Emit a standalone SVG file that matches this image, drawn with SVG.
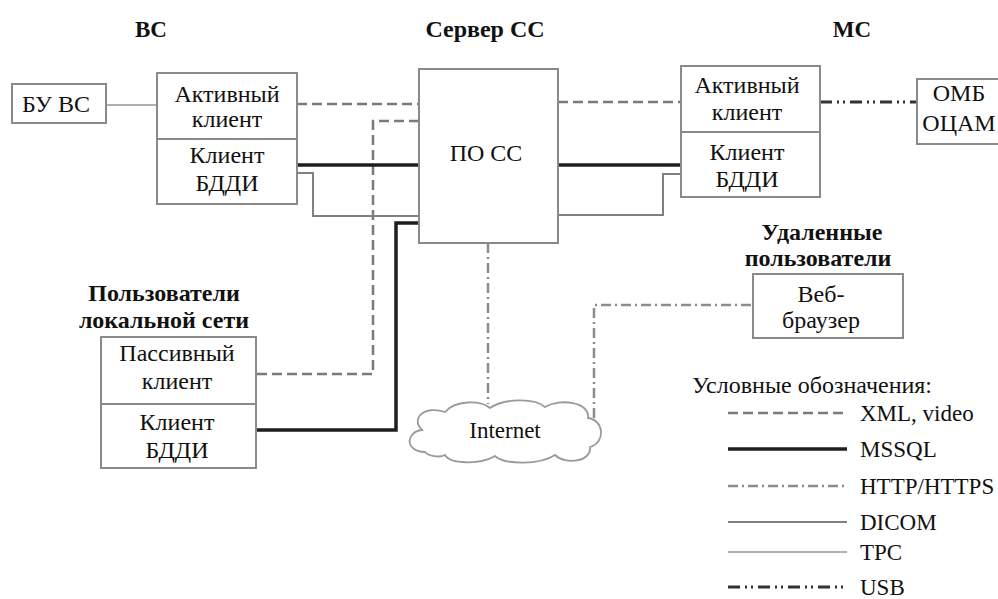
<svg xmlns="http://www.w3.org/2000/svg" width="998" height="599" viewBox="0 0 998 599" font-family="'Liberation Serif', 'Times New Roman', serif">
<style>
text{font-family:'Liberation Serif','Times New Roman',serif;font-size:24px;fill:#111}
.c{text-anchor:middle}
.b{font-weight:bold}
.lg{font-size:23px}
.bx{fill:#fff;stroke:#8a8a8a;stroke-width:2}
.xml{fill:none;stroke:#7a7a7a;stroke-width:2.5;stroke-dasharray:10 5}
.sql{fill:none;stroke:#1e1e1e;stroke-width:3.5}
.http{fill:none;stroke:#8c8c8c;stroke-width:2.5;stroke-dasharray:10 4 2 4}
.dicom{fill:none;stroke:#808080;stroke-width:2}
.tpc{fill:none;stroke:#b0b0b0;stroke-width:2}
.usb{fill:none;stroke:#333;stroke-width:3;stroke-dasharray:12 5 2 4 2 5}
</style>
<rect width="998" height="599" fill="#fff"/>
<g id="titles">
<text class="c b" x="151" y="37" style="font-size:23px">ВС</text>
<text class="c b" x="485" y="37">Сервер СС</text>
<text class="c b" x="852" y="37" style="font-size:23px">МС</text>
<text class="c b" x="164" y="301">Пользователи</text>
<text class="c b" x="164" y="328">локальной сети</text>
<text class="c b" x="822" y="240">Удаленные</text>
<text class="c b" x="818" y="266">пользователи</text>
</g>
<g id="connectors">
<path class="tpc" d="M106,105 H157"/>
<path class="xml" d="M297,104 H419"/>
<path class="xml" d="M419,121 H373 V374 H257"/>
<path class="sql" d="M297,165 H419"/>
<path class="dicom" d="M297,173 H313 V216 H419"/>
<path class="sql" d="M419,223 H396 V430 H257"/>
<path class="xml" d="M558,102 H681"/>
<path class="sql" d="M558,165 H681"/>
<path class="dicom" d="M558,215 H663 V174 H681"/>
<path class="usb" d="M820,102 H917"/>
<path class="http" d="M488,243 V404"/>
<path class="http" d="M594,418 V305 H753"/>
</g>
<g id="bu-vs">
<rect class="bx" x="12" y="84" width="94" height="39"/>
<text class="c" x="56" y="112">БУ ВС</text>
</g>
<g id="vs-client">
<rect class="bx" x="157" y="73" width="140" height="131"/>
<line x1="157" y1="139" x2="297" y2="139" stroke="#8a8a8a" stroke-width="2"/>
<text class="c" x="227" y="102">Активный</text>
<text class="c" x="227" y="127">клиент</text>
<text class="c" x="227" y="163">Клиент</text>
<text class="c" x="227" y="191">БДДИ</text>
</g>
<g id="server">
<rect class="bx" x="419" y="69" width="139" height="174"/>
<text class="c" x="486" y="161">ПО СС</text>
</g>
<g id="ms-client">
<rect class="bx" x="681" y="66" width="139" height="131"/>
<line x1="681" y1="132" x2="820" y2="132" stroke="#8a8a8a" stroke-width="2"/>
<text class="c" x="747" y="93">Активный</text>
<text class="c" x="747" y="120">клиент</text>
<text class="c" x="747" y="160">Клиент</text>
<text class="c" x="747" y="187">БДДИ</text>
</g>
<g id="omb">
<rect class="bx" x="917" y="79" width="90" height="65"/>
<text class="c" x="959" y="101">ОМБ</text>
<text class="c" x="959" y="131">ОЦАМ</text>
</g>
<g id="local-client">
<rect class="bx" x="101" y="337" width="155" height="131"/>
<line x1="101" y1="404" x2="256" y2="404" stroke="#8a8a8a" stroke-width="2"/>
<text class="c" x="177" y="361">Пассивный</text>
<text class="c" x="177" y="389">клиент</text>
<text class="c" x="177" y="430">Клиент</text>
<text class="c" x="177" y="458">БДДИ</text>
</g>
<g id="internet">
<path d="M425,452 C405,452 405,432 422,430 C410,418 425,405 445,412 C455,400 480,400 490,408 C505,398 535,398 545,407 C560,398 590,402 588,418 C604,420 606,442 590,447 C592,462 565,465 555,455 C540,465 505,465 495,456 C480,465 450,464 445,455 C440,458 428,456 425,452 Z" fill="#fff" stroke="#9a9a9a" stroke-width="1.8"/>
<text class="c lg" x="505" y="438">Internet</text>
</g>
<g id="browser">
<rect class="bx" x="753" y="274" width="150" height="64"/>
<text class="c" x="821" y="302">Веб-</text>
<text class="c" x="821" y="328">браузер</text>
</g>
<g id="legend">
<text x="692" y="393">Условные обозначения:</text>
<path class="xml" d="M728,413 H847"/>
<path class="sql" d="M728,449 H847"/>
<path class="http" d="M728,486 H847"/>
<path class="dicom" d="M728,522 H847"/>
<path class="tpc" d="M728,552 H847"/>
<path class="usb" d="M728,587 H847"/>
<text class="lg" x="860" y="421">XML, video</text>
<text class="lg" x="860" y="457">MSSQL</text>
<text class="lg" x="860" y="494">HTTP/HTTPS</text>
<text class="lg" x="860" y="530">DICOM</text>
<text class="lg" x="860" y="560">TPC</text>
<text class="lg" x="860" y="595">USB</text>
</g>
</svg>
